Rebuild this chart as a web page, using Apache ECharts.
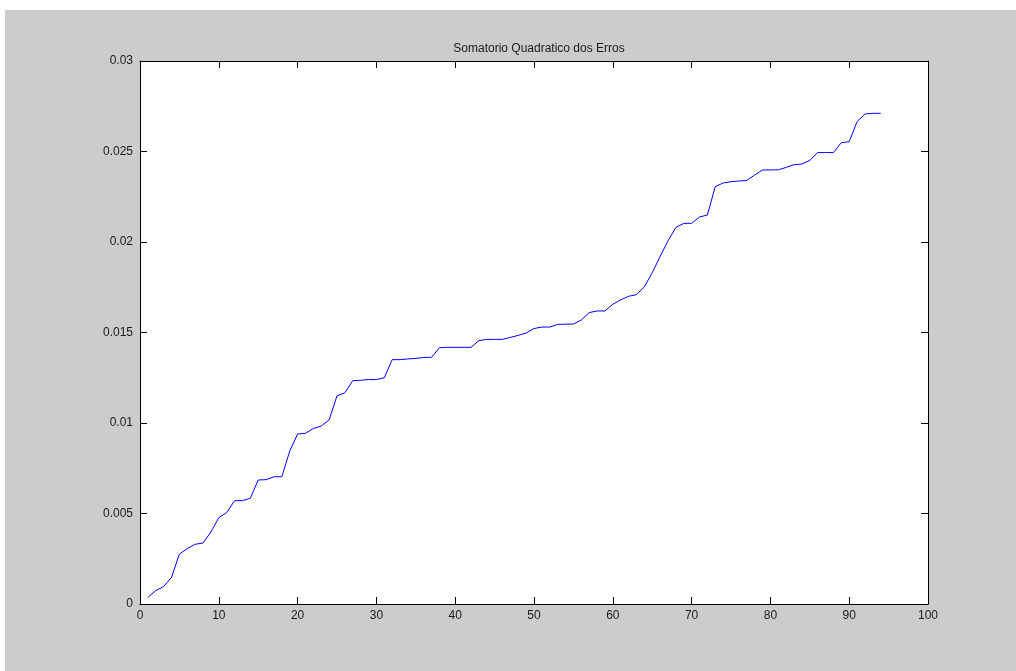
<!DOCTYPE html>
<html>
<head>
<meta charset="utf-8">
<script src="https://cdn.jsdelivr.net/npm/echarts@6/dist/echarts.min.js"></script>
<style>
html,body{margin:0;padding:0;background:#fff;width:1016px;height:671px;overflow:hidden;}
#c{position:absolute;left:5px;top:10px;width:1011px;height:661px;background:#cccccc;}
</style>
</head>
<body>
<div id="c"></div>
<script>
const titleText = 'Somatorio Quadratico dos Erros';
const xTicks = [0, 10, 20, 30, 40, 50, 60, 70, 80, 90, 100];
const yTicks = [0, 0.005, 0.01, 0.015, 0.02, 0.025, 0.03];
const iterations = [
  1,2,3,4,5,6,7,8,9,10,11,12,13,14,15,16,17,18,19,20,
  21,22,23,24,25,26,27,28,29,30,31,32,33,34,35,36,37,38,39,40,
  41,42,43,44,45,46,47,48,49,50,51,52,53,54,55,56,57,58,59,60,
  61,62,63,64,65,66,67,68,69,70,71,72,73,74,75,76,77,78,79,80,
  81,82,83,84,85,86,87,88,89,90,91,92,93,94
];
const sse = [
  0.00037,0.00074,0.00096,0.00147,0.00276,0.00306,0.00330,0.00337,0.00398,0.00477,
  0.00505,0.00571,0.00571,0.00584,0.00685,0.00687,0.00703,0.00703,0.00845,0.00939,
  0.00943,0.00970,0.00983,0.01017,0.01150,0.01167,0.01234,0.01236,0.01240,0.01240,
  0.01250,0.01350,0.01350,0.01354,0.01357,0.01362,0.01363,0.01416,0.01418,0.01418,
  0.01418,0.01418,0.01455,0.01462,0.01462,0.01462,0.01473,0.01484,0.01497,0.01522,
  0.01530,0.01530,0.01545,0.01546,0.01547,0.01569,0.01610,0.01619,0.01619,0.01656,
  0.01680,0.01700,0.01709,0.01752,0.01830,0.01920,0.02006,0.02080,0.02103,0.02103,
  0.02138,0.02149,0.02306,0.02326,0.02333,0.02337,0.02340,0.02370,0.02398,0.02398,
  0.02399,0.02412,0.02427,0.02431,0.02451,0.02494,0.02494,0.02494,0.02549,0.02554,
  0.02665,0.02707,0.02711,0.02711
];

const data = iterations.map((x, i) => [x, sse[i]]);
const font = 'Liberation Sans';
const axisColor = '#000';
const labelColor = '#1a1a1a';

function xAx(pos, showLabel) {
  return {
    type: 'value', position: pos, min: xTicks[0], max: xTicks[xTicks.length - 1],
    interval: xTicks[1] - xTicks[0],
    axisLine: {show: true, onZero: false, lineStyle: {color: axisColor, width: 1}},
    axisTick: {show: true, inside: true, length: 7, lineStyle: {color: axisColor}},
    axisLabel: {show: showLabel, color: labelColor, fontFamily: font, fontSize: 12, margin: 6},
    splitLine: {show: false}
  };
}
function yAx(pos, showLabel) {
  return {
    type: 'value', position: pos, min: yTicks[0], max: yTicks[yTicks.length - 1],
    interval: yTicks[1] - yTicks[0],
    axisLine: {show: true, onZero: false, lineStyle: {color: axisColor, width: 1}},
    axisTick: {show: true, inside: true, length: 7, lineStyle: {color: axisColor}},
    axisLabel: {show: showLabel, color: labelColor, fontFamily: font, fontSize: 12, margin: 7,
      formatter: v => String(+v.toFixed(4))},
    splitLine: {show: false}
  };
}

const chart = echarts.init(document.getElementById('c'), null, {renderer: 'canvas'});
chart.setOption({
  backgroundColor: '#cccccc',
  animation: false,
  title: {
    text: titleText, left: 529, top: 28, textAlign: 'center',
    textStyle: {fontFamily: font, fontSize: 12, fontWeight: 'normal', color: labelColor}
  },
  grid: {left: 135, right: 88, top: 51, bottom: 67, show: true, backgroundColor: '#ffffff', borderWidth: 0},
  xAxis: [xAx('bottom', true), xAx('top', false)],
  yAxis: [yAx('left', true), yAx('right', false)],
  series: [{
    type: 'line', data: data, xAxisIndex: 0, yAxisIndex: 0,
    showSymbol: false, symbol: 'none',
    lineStyle: {color: '#0000ff', width: 1}
  }]
});
</script>
</body>
</html>
